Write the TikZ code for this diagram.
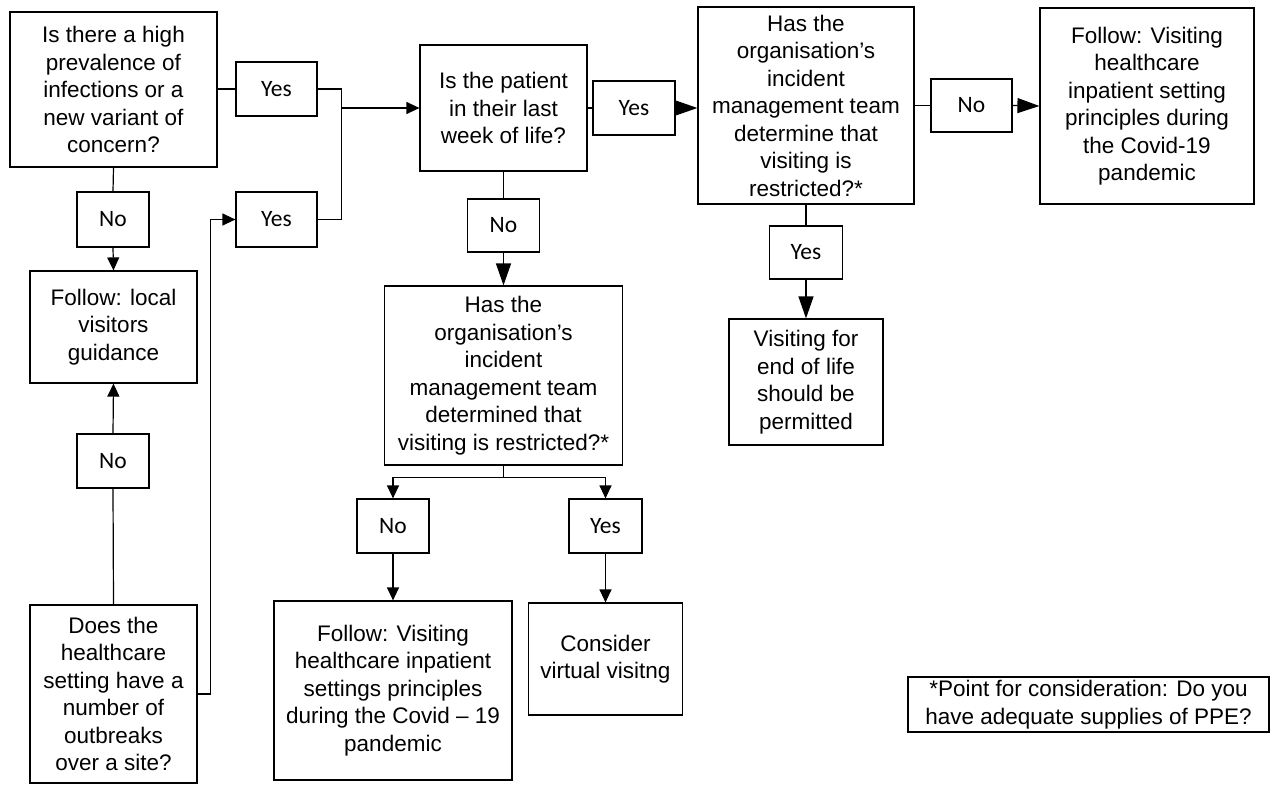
\documentclass[tikz,border=0pt]{standalone}
\usepackage{fontspec}
\setmainfont{Liberation Sans}
\newfontfamily\lblfont{Carlito}
\usetikzlibrary{arrows.meta}
\begin{document}
\begin{tikzpicture}[x=1pt,y=-1pt,line width=1.2pt,
  box/.style={draw,align=center,inner sep=0pt,font=\fontsize{22.5}{27.5}\selectfont},
  lbl/.style={draw,inner sep=0pt,font=\lblfont\fontsize{23.5}{26}\selectfont},
  sm/.style={-{Triangle[length=13pt,width=12pt]}},
  bg/.style={-{Triangle[length=22pt,width=15pt]}}]
\useasboundingbox (0,0) rectangle (1272,787);
% boxes
\node[box,minimum width=207pt,minimum height=155pt] (A) at (113.5,89.5) {Is there a high\\prevalence of\\infections or a\\new variant of\\concern?};
\node[lbl,minimum width=81pt,minimum height=54pt] (Y1) at (276.5,89) {Yes};
\node[lbl,minimum width=81pt,minimum height=55pt] (Y2) at (276.5,219.5) {Yes};
\node[lbl,minimum width=72pt,minimum height=55pt] (N1) at (113,219.5) {No};
\node[box,minimum width=167pt,minimum height=112pt] (L) at (113.5,327) {Follow: local\\visitors\\guidance};
\node[lbl,minimum width=72pt,minimum height=54pt] (N2) at (113,461) {No};
\node[box,minimum width=167pt,minimum height=178pt] (S) at (113.5,694) {Does the\\healthcare\\setting have a\\number of\\outbreaks\\over a site?};
\node[box,minimum width=167pt,minimum height=126pt] (P) at (503.5,108) {Is the patient\\in their last\\week of life?};
\node[lbl,minimum width=82pt,minimum height=54pt] (Y3) at (634,108) {Yes};
\node[lbl,minimum width=72pt,minimum height=53pt] (N3) at (503.5,225.5) {No};
\node[box,minimum width=238pt,minimum height=179pt] (B) at (503.5,375.5) {Has the\\organisation’s\\incident\\management team\\determined that\\visiting is restricted?*};
\node[lbl,minimum width=72pt,minimum height=54pt] (N4) at (393,526) {No};
\node[lbl,minimum width=73pt,minimum height=54pt] (Y4) at (605.5,526) {Yes};
\node[box,minimum width=238pt,minimum height=179pt] (C) at (393,690.5) {Follow: Visiting\\healthcare inpatient\\settings principles\\during the Covid – 19\\pandemic};
\node[box,minimum width=154pt,minimum height=112pt] (V) at (605.5,659) {Consider\\virtual visitng};
\node[box,minimum width=216pt,minimum height=197pt] (D) at (806,105.5) {Has the\\organisation’s\\incident\\management team\\determine that\\visiting is\\restricted?*};
\node[lbl,minimum width=81pt,minimum height=53pt] (N5) at (971.5,105.5) {No};
\node[box,minimum width=214pt,minimum height=196pt] (E) at (1147,106) {Follow: Visiting\\healthcare\\inpatient setting\\principles during\\the Covid-19\\pandemic};
\node[lbl,minimum width=73pt,minimum height=53pt] (Y5) at (806,252.5) {Yes};
\node[box,minimum width=154pt,minimum height=126pt] (W) at (806,382) {Visiting for\\end of life\\should be\\permitted};
\node[box,minimum width=361pt,minimum height=55pt] (PPE) at (1088.5,704.5) {*Point for consideration: Do you\\have adequate supplies of PPE?};
% connectors
\draw (A.east |- Y1) -- (Y1.west);
\draw (Y1.east) -- ++(24,0) coordinate (J1) |- (Y2.east);
\coordinate (J) at (J1 |- P.west);
\draw[sm] (J) -- (P.west);
\draw (A.south) -- (N1.north);
\draw[sm] (N1.south) -- (L.north);
\draw (S.north) -- (N2.south);
\draw[sm] (N2.north) -- (L.south);
\draw[sm] (S.east) -- ++(13,0) |- (Y2.west);
\draw (P.east) -- (Y3.west);
\draw[bg] (Y3.east) -- (D.west |- Y3.east);
\draw (P.south) -- (N3.north);
\draw[bg] (N3.south) -- (B.north);
\draw (B.south) -- ++(0,12) coordinate (K);
\draw[sm] (K) -| (N4.north);
\draw[sm] (K) -| (Y4.north);
\draw[sm] (N4.south) -- (C.north);
\draw[sm] (Y4.south) -- (V.north);
\draw (D.east) -- (N5.west);
\draw[bg] (N5.east) -- (E.west);
\draw (D.south) -- (Y5.north);
\draw[bg] (Y5.south) -- (W.north);
\end{tikzpicture}
\end{document}
